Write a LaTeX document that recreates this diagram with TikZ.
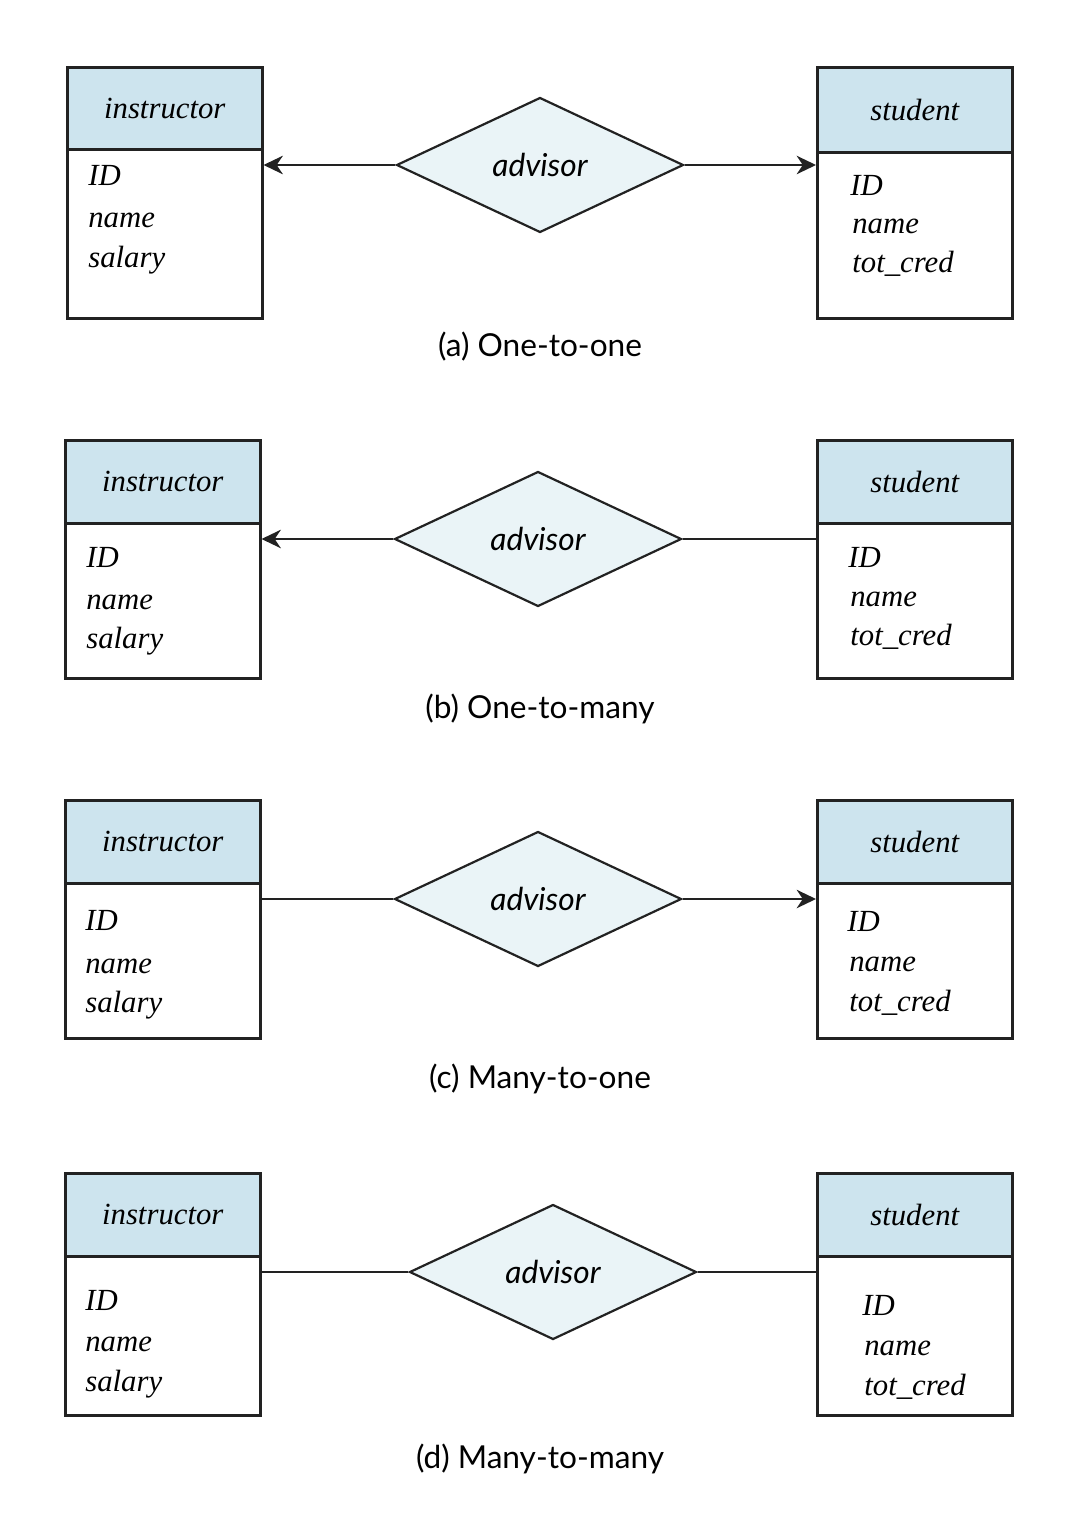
\documentclass[tikz,border=0pt]{standalone}
\usepackage{fontspec}
\setmainfont{Liberation Serif}
\newfontfamily\capfont{Lato}
\usetikzlibrary{shapes.geometric,arrows.meta}

\definecolor{headblue}{RGB}{205,228,238}
\definecolor{relblue}{RGB}{234,244,247}
\definecolor{inkgray}{RGB}{34,34,34}

\tikzset{
  entityhead/.style={draw=inkgray, line width=1.45pt, fill=headblue, minimum width=3.9cm, minimum height=1.66cm, anchor=north west, inner sep=0pt, font=\fontsize{17.5}{21}\selectfont\itshape},
  entitybody/.style={draw=inkgray, line width=1.45pt, minimum width=3.9cm, anchor=north west, inner sep=0pt},
  attr/.style={anchor=base west, inner sep=0pt, font=\fontsize{17.5}{21}\selectfont\itshape},
  rel/.style={diamond, draw=inkgray, line width=1.25pt, fill=relblue, minimum width=5.74cm, minimum height=2.7cm, inner sep=0pt, font=\capfont\fontsize{18}{21}\selectfont\itshape},
  link/.style={draw=inkgray, line width=1.3pt},
  linkarrow/.style={link, -{Stealth[length=11pt,width=10.5pt,inset=3.5pt]}},
  legend/.style={font=\capfont\fontsize{18}{22}\selectfont}
}

\begin{document}
\begin{tikzpicture}[x=0.02cm, y=-0.02cm]
\useasboundingbox (0,0) rectangle (1078,1524);

% (a) one-to-one
\node[entityhead, minimum height=1.64cm] (instA) at (66,66) {instructor};
\node[entitybody, minimum height=3.38cm] (instAbody) at (66,148) {};
\node[attr] (instAid) at (88,186) {ID};
\node[attr] (instAname) at (88,228) {name};
\node[attr] (instAsal) at (88,267) {salary};
\node[entityhead, minimum height=1.7cm] (studA) at (816,66) {student};
\node[entitybody, minimum height=3.32cm] (studAbody) at (816,151) {};
\node[attr] (studAid) at (850,195) {ID};
\node[attr] (studAname) at (852,234) {name};
\node[attr] (studAcred) at (852,273) {tot\_cred};
\node[rel] (advA) at (540,165) {advisor};
\draw[linkarrow] (advA.west) -- (advA.west -| instAbody.east);
\draw[linkarrow] (advA.east) -- (advA.east -| studAbody.west);
\node[legend] (capA) at (540,347) {(a) One-to-one};

% (b) one-to-many
\node[entityhead] (instB) at (64,439) {instructor};
\node[entitybody, minimum height=3.1cm] (instBbody) at (64,522) {};
\node[attr] (instBid) at (86,567) {ID};
\node[attr] (instBname) at (86,609) {name};
\node[attr] (instBsal) at (86,648) {salary};
\node[entityhead] (studB) at (816,439) {student};
\node[entitybody, minimum height=3.1cm] (studBbody) at (816,522) {};
\node[attr] (studBid) at (848,567) {ID};
\node[attr] (studBname) at (850,606) {name};
\node[attr] (studBcred) at (850,645) {tot\_cred};
\node[rel] (advB) at (538,539) {advisor};
\draw[linkarrow] (advB.west) -- (advB.west -| instBbody.east);
\draw[link] (advB.east) -- (advB.east -| studBbody.west);
\node[legend] (capB) at (540,709) {(b) One-to-many};

% (c) many-to-one
\node[entityhead] (instC) at (64,799) {instructor};
\node[entitybody, minimum height=3.1cm] (instCbody) at (64,882) {};
\node[attr] (instCid) at (85,930) {ID};
\node[attr] (instCname) at (85,973) {name};
\node[attr] (instCsal) at (85,1012) {salary};
\node[entityhead] (studC) at (816,799) {student};
\node[entitybody, minimum height=3.1cm] (studCbody) at (816,882) {};
\node[attr] (studCid) at (847,931) {ID};
\node[attr] (studCname) at (849,971) {name};
\node[attr] (studCcred) at (849,1011) {tot\_cred};
\node[rel] (advC) at (538,899) {advisor};
\draw[link] (advC.west) -- (advC.west -| instCbody.east);
\draw[linkarrow] (advC.east) -- (advC.east -| studCbody.west);
\node[legend] (capC) at (540,1079) {(c) Many-to-one};

% (d) many-to-many
\node[entityhead] (instD) at (64,1172) {instructor};
\node[entitybody, minimum height=3.18cm] (instDbody) at (64,1255) {};
\node[attr] (instDid) at (85,1310) {ID};
\node[attr] (instDname) at (85,1351) {name};
\node[attr] (instDsal) at (85,1391) {salary};
\node[entityhead] (studD) at (816,1172) {student};
\node[entitybody, minimum height=3.18cm] (studDbody) at (816,1255) {};
\node[attr] (studDid) at (862,1315) {ID};
\node[attr] (studDname) at (864,1355) {name};
\node[attr] (studDcred) at (864,1395) {tot\_cred};
\node[rel] (advD) at (553,1272) {advisor};
\draw[link] (advD.west) -- (advD.west -| instDbody.east);
\draw[link] (advD.east) -- (advD.east -| studDbody.west);
\node[legend] (capD) at (540,1459) {(d) Many-to-many};

\end{tikzpicture}
\end{document}
